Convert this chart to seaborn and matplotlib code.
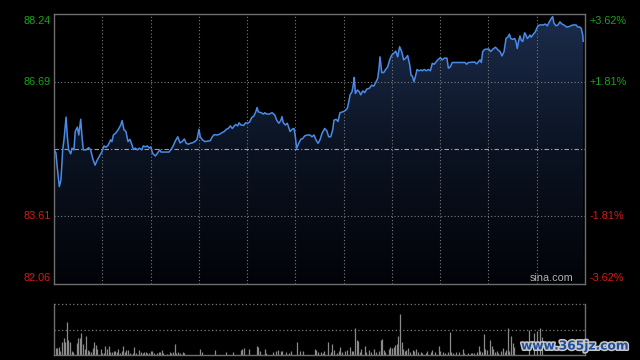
import numpy as np
import pandas as pd
import matplotlib
matplotlib.use("Agg")
import matplotlib.pyplot as plt
import matplotlib.transforms as mtransforms
import matplotlib.patheffects as pe
from matplotlib.patches import Polygon
from matplotlib.colors import LinearSegmentedColormap
import seaborn as sns

# ---------------- data ----------------
minutes = [0.0, 1.2, 2.0, 3.3, 4.3, 5.4, 6.2, 7.5, 8.3, 9.1, 10.4, 11.2, 12.4, 13.2, 14.5, 15.4, 16.6, 17.4, 18.2, 19.9,
           21.6, 22.8, 24.0, 25.5, 26.9, 28.6, 29.8, 31.1, 32.3, 33.7, 35.2, 36.0, 36.9, 38.5, 40.0, 41.5, 42.3, 43.5, 44.7, 46.0,
           47.2, 48.5, 49.3, 50.5, 51.8, 53.0, 54.5, 55.5, 56.7, 58.0, 59.2, 60.1, 61.3, 63.0, 64.2, 65.7, 66.5, 69.0, 71.5, 72.7,
           74.1, 75.2, 76.9, 78.3, 79.7, 81.0, 82.2, 83.5, 84.7, 86.0, 87.6, 88.9, 90.1, 90.9, 92.2, 93.8, 95.5, 97.1, 98.4, 99.6,
           101.3, 103.0, 104.2, 105.8, 107.1, 108.3, 109.6, 110.8, 112.1, 112.9, 114.2, 115.0, 116.2, 117.9, 119.1, 120.4, 121.6, 122.9, 124.1, 125.4,
           126.2, 127.0, 128.7, 130.3, 131.0, 132.2, 133.8, 135.5, 137.2, 138.4, 139.7, 140.9, 141.7, 142.5, 143.8, 145.0, 146.7, 147.9, 149.2, 150.0,
           150.8, 152.1, 153.3, 154.6, 155.8, 157.4, 159.1, 160.3, 161.6, 162.8, 164.1, 165.3, 166.6, 168.2, 169.5, 170.7, 172.0, 173.2, 174.0, 175.3,
           176.5, 177.7, 179.4, 181.0, 182.3, 183.2, 184.0, 185.2, 186.0, 186.6, 187.3, 188.5, 189.7, 190.6, 191.9, 193.1, 194.3, 196.0, 197.4, 198.7,
           199.9, 201.2, 202.0, 202.6, 203.7, 204.9, 206.1, 207.4, 208.6, 209.9, 211.1, 212.4, 213.6, 214.8, 216.1, 217.3, 218.6, 219.8, 221.1, 221.9,
           222.7, 223.7, 224.8, 225.6, 226.8, 228.1, 228.9, 230.1, 231.4, 232.6, 233.9, 235.1, 236.3, 237.6, 238.8, 240.1, 241.3, 242.6, 244.2, 245.1,
           246.3, 247.5, 251.3, 255.4, 256.5, 257.5, 261.5, 262.7, 263.9, 264.8, 265.6, 266.4, 267.7, 270.2, 271.4, 272.6, 274.3, 275.9, 277.2, 278.4,
           279.7, 280.9, 282.2, 283.0, 283.8, 285.1, 286.3, 287.1, 287.9, 288.8, 289.6, 290.4, 291.3, 292.5, 293.3, 294.1, 295.0, 295.8, 296.6, 297.9,
           299.1, 300.0, 300.8, 302.0, 304.1, 305.3, 306.6, 307.8, 309.1, 309.9, 310.7, 312.0, 313.2, 314.4, 315.7, 316.9, 318.6, 319.9, 321.1, 322.7,
           324.4, 325.6, 326.9, 327.7, 328.6, 328.9]
prices = [85.14, 85.06, 84.74, 84.29, 84.44, 85.13, 85.36, 85.88, 85.43, 85.13, 85.04, 85.17, 85.13, 85.55, 85.65, 85.47, 85.83, 85.43, 85.13, 85.13,
          85.18, 85.13, 84.94, 84.78, 84.90, 85.01, 85.09, 85.22, 85.19, 85.24, 85.36, 85.32, 85.47, 85.52, 85.60, 85.70, 85.80, 85.59, 85.55, 85.32,
          85.37, 85.24, 85.14, 85.17, 85.13, 85.17, 85.13, 85.22, 85.20, 85.22, 85.17, 85.20, 85.05, 84.99, 85.05, 85.13, 85.08, 85.08, 85.08, 85.14,
          85.22, 85.32, 85.43, 85.29, 85.32, 85.38, 85.28, 85.26, 85.28, 85.29, 85.32, 85.37, 85.60, 85.43, 85.36, 85.32, 85.33, 85.34, 85.43, 85.48,
          85.47, 85.49, 85.52, 85.55, 85.60, 85.62, 85.68, 85.62, 85.68, 85.71, 85.68, 85.75, 85.70, 85.69, 85.75, 85.74, 85.77, 85.87, 85.90, 86.00,
          86.10, 86.00, 85.98, 85.95, 85.98, 85.95, 85.95, 85.98, 85.93, 85.81, 85.74, 85.80, 85.89, 85.75, 85.70, 85.74, 85.55, 85.60, 85.62, 85.43,
          85.17, 85.28, 85.37, 85.39, 85.45, 85.47, 85.47, 85.43, 85.47, 85.36, 85.28, 85.36, 85.51, 85.62, 85.57, 85.43, 85.43, 85.59, 85.81, 85.83,
          85.78, 85.98, 86.00, 86.03, 86.08, 86.23, 86.39, 86.46, 86.62, 86.79, 86.42, 86.50, 86.46, 86.39, 86.48, 86.44, 86.52, 86.54, 86.61, 86.59,
          86.67, 86.77, 87.00, 87.26, 86.90, 86.90, 86.97, 87.03, 87.19, 87.30, 87.34, 87.39, 87.26, 87.49, 87.38, 87.19, 87.23, 87.29, 87.07, 86.84,
          86.82, 86.69, 86.84, 86.97, 86.94, 86.96, 86.94, 86.97, 86.94, 86.97, 86.94, 87.11, 87.09, 87.15, 87.20, 87.24, 87.19, 87.23, 87.23, 87.00,
          87.03, 87.13, 87.13, 87.13, 87.09, 87.13, 87.14, 87.10, 87.15, 87.19, 87.13, 87.38, 87.43, 87.44, 87.38, 87.43, 87.48, 87.42, 87.38, 87.28,
          87.38, 87.68, 87.72, 87.78, 87.68, 87.66, 87.68, 87.61, 87.45, 87.63, 87.74, 87.64, 87.61, 87.81, 87.76, 87.68, 87.71, 87.76, 87.71, 87.78,
          87.83, 87.91, 87.97, 87.99, 87.99, 88.01, 87.97, 88.06, 88.14, 88.18, 88.03, 87.97, 87.99, 88.06, 88.01, 87.99, 87.94, 87.95, 87.97, 87.99,
          87.99, 87.94, 87.94, 87.91, 87.76, 87.61]

vol_minutes = [1, 2, 3, 4, 5, 6, 7, 8, 9, 10, 11, 12, 14, 15, 16, 17, 18, 19, 20, 21, 22, 23, 24, 25, 26, 27, 29, 30, 31, 32,
               33, 34, 35, 36, 37, 38, 39, 40, 41, 42, 43, 44, 45, 46, 47, 49, 50, 51, 53, 54, 55, 56, 57, 58, 59, 60, 61, 62, 64, 65,
               66, 67, 68, 70, 72, 73, 74, 75, 76, 77, 78, 80, 81, 91, 92, 100, 107, 111, 116, 117, 118, 121, 126, 127, 128, 131, 132, 136, 138, 139,
               141, 142, 144, 146, 147, 151, 153, 155, 162, 163, 164, 166, 167, 168, 170, 172, 173, 174, 176, 177, 178, 179, 181, 182, 184, 185, 186, 187, 188, 189,
               190, 191, 193, 194, 196, 197, 199, 200, 202, 203, 204, 205, 206, 208, 209, 210, 211, 212, 213, 214, 215, 216, 217, 218, 219, 220, 221, 223, 224, 225,
               226, 228, 229, 231, 232, 234, 235, 237, 239, 240, 242, 243, 245, 246, 247, 248, 250, 252, 254, 255, 257, 259, 260, 261, 263, 264, 265, 266, 267, 268,
               269, 271, 272, 273, 274, 275, 276, 278, 279, 280, 281, 282, 283, 284, 285, 286, 295, 298, 300, 302, 303]
volumes = [67, 73, 77, 40, 133, 167, 133, 330, 150, 133, 40, 33, 123, 173, 173, 220, 110, 57, 190, 50, 40, 30, 73, 133, 100, 57, 57, 23, 17, 90,
           57, 90, 33, 30, 43, 43, 30, 60, 17, 43, 90, 33, 50, 50, 17, 23, 80, 17, 50, 33, 23, 30, 30, 23, 17, 40, 40, 17, 17, 30,
           30, 50, 17, 10, 30, 17, 30, 110, 17, 27, 23, 30, 17, 57, 33, 50, 30, 30, 50, 60, 67, 57, 90, 77, 40, 57, 17, 30, 37, 50,
           40, 40, 30, 17, 40, 133, 40, 40, 60, 50, 33, 33, 23, 40, 133, 33, 110, 50, 23, 40, 77, 33, 40, 50, 83, 40, 40, 273, 150, 140,
           30, 60, 90, 30, 50, 33, 57, 30, 40, 150, 160, 50, 30, 57, 83, 67, 77, 100, 110, 190, 410, 133, 57, 40, 50, 67, 33, 50, 40, 57,
           30, 30, 17, 23, 43, 30, 50, 30, 90, 40, 30, 23, 30, 233, 30, 17, 30, 30, 57, 17, 23, 17, 23, 17, 30, 90, 40, 30, 210, 57,
           50, 150, 90, 57, 30, 40, 23, 40, 67, 33, 50, 267, 40, 190, 117, 77, 250, 217, 243, 267, 183]

base_price = 85.15
price_ticks = [88.24, 86.69, 83.61, 82.06]
pct_labels = ["+3.62%", "+1.81%", "-1.81%", "-3.62%"]
time_grid = [0, 30, 60, 90, 120, 150, 180, 210, 240, 270, 300, 330]

# ---------------- style ----------------
sns.set_theme(style="dark")
plt.rcParams["font.family"] = ["Liberation Sans", "DejaVu Sans"]
BG = "#000000"
FRAME = "#6e6e6e"
GRID = "#7a7a7a"
LINE = "#4a8be8"
GREEN = "#1aa31a"
RED = "#d41a1a"

fig = plt.figure(figsize=(6.4, 3.6), dpi=100, facecolor=BG)
ax = fig.add_axes([54 / 640, 1 - 284 / 360, 531 / 640, 270 / 360])
axv = fig.add_axes([54 / 640, 1 - 355 / 360, 531 / 640, 51 / 360])

for a in (ax, axv):
    a.set_facecolor(BG)
    a.set_xticks([])
    a.set_yticks([])
    a.grid(False)
    for s in a.spines.values():
        s.set_color(FRAME)
        s.set_linewidth(1.0)

ymin, ymax = price_ticks[-1], price_ticks[0]
ax.set_xlim(time_grid[0], time_grid[-1])
ax.set_ylim(ymin, ymax)

df = pd.DataFrame({"minute": minutes, "price": prices})

# gradient fill below the line
verts = list(zip(minutes, prices)) + [(minutes[-1], ymin), (minutes[0], ymin)]
poly = Polygon(verts, closed=True, facecolor="none", edgecolor="none", transform=ax.transData)
ax.add_patch(poly)
cmap = LinearSegmentedColormap.from_list("fillgrad", ["#020308", "#0b1322", "#1c2c4c"])
grad = np.linspace(0, 1, 256).reshape(-1, 1)
im = ax.imshow(grad, extent=[time_grid[0], time_grid[-1], ymin, ymax], origin="lower",
               aspect="auto", cmap=cmap, zorder=1, interpolation="bicubic")
im.set_clip_path(poly)

# grid lines
for t in time_grid[1:-1]:
    ax.axvline(t, color=GRID, lw=0.8, ls=(0, (1, 2)), zorder=2)
for p in price_ticks[1:-1]:
    ax.axhline(p, color=GRID, lw=0.8, ls=(0, (1, 2)), zorder=2)
ax.axhline(base_price, color="#a0a0a0", lw=0.8, ls=(0, (4, 2, 1, 2)), zorder=2)

sns.lineplot(data=df, x="minute", y="price", ax=ax, color=LINE, lw=1.1, zorder=3, estimator=None, sort=False)
ax.set_xlabel("")
ax.set_ylabel("")

# price labels
ytr = ax.get_yaxis_transform()
offsets_px = [-6.5, 0, 0, 6.3]
for p, lab, dy in zip(price_ticks, pct_labels, offsets_px):
    col = GREEN if p > base_price else RED
    off = mtransforms.ScaledTranslation(0, dy / 100, fig.dpi_scale_trans)
    ax.text(-3 / 531, p, f"{p:.2f}", transform=ytr + off, ha="right", va="center",
            color=col, fontsize=7.8, clip_on=False)
    ax.text(1 + 5 / 531, p, lab, transform=ytr + off, ha="left", va="center",
            color=col, fontsize=7.8, clip_on=False)

ax.text(1 - 12 / 531, 6 / 270, "sina.com", transform=ax.transAxes, ha="right", va="center",
        color="#b0b0b0", fontsize=7.8, zorder=4)

# volume panel
vmax = 510
axv.set_xlim(time_grid[0], time_grid[-1])
axv.set_ylim(0, vmax)
axv.spines["top"].set_visible(False)
axv.axhline(vmax, color=GRID, lw=0.9, ls=(0, (1, 2)), zorder=2, clip_on=False)
axv.axhline(vmax / 2, color=GRID, lw=0.9, ls=(0, (1, 2)), zorder=2)
axv.vlines(vol_minutes, 0, volumes, color="#8a8a8a", lw=0.9, zorder=3)

# watermark
fig.text(575 / 640, 1 - 346 / 360, "www.365jz.com", ha="center", va="center",
         color="#1d4f9c", fontsize=8.8, fontweight="bold", family=["DejaVu Sans"],
         path_effects=[pe.withStroke(linewidth=2.2, foreground="#c8c8c8")], zorder=10)

fig.savefig("out.png", dpi=100, facecolor=BG)
